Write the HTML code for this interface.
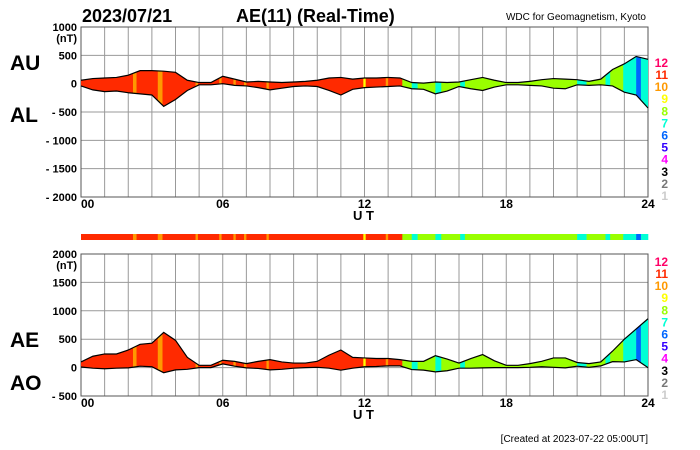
<!DOCTYPE html>
<html><head><meta charset="utf-8"><style>
body{margin:0;background:#fff;width:700px;height:450px;overflow:hidden}
svg{display:block;font-family:"Liberation Sans",sans-serif}
</style></head><body>
<svg id="c" width="700" height="450"></svg>
<script>
const hours=[0,0.5,1,1.5,2,2.5,3,3.5,4,4.5,5,5.5,6,6.5,7,7.5,8,8.5,9,9.5,10,10.5,11,11.5,12,12.5,13,13.5,14,14.5,15,15.5,16,16.5,17,17.5,18,18.5,19,19.5,20,20.5,21,21.5,22,22.5,23,23.5,24];
const auValues=[60,90,100,110,150,230,230,220,200,60,20,20,130,80,30,40,30,20,30,40,60,100,110,80,100,100,110,100,20,10,30,20,30,70,110,60,20,20,40,70,90,80,70,40,80,250,350,480,430];
const alValues=[-40,-110,-140,-130,-160,-180,-200,-400,-280,-120,-20,-20,0,-30,-40,-70,-110,-80,-50,-40,-50,-120,-200,-100,-70,-60,-50,-40,-90,-100,-180,-130,-50,-90,-120,-60,-20,-20,-30,-40,-80,-90,-20,-30,-20,-40,-150,-200,-430];
// station-count segments [start hour, end hour, count]
const segStart=[0,2.2,2.35,3.25,3.45,4.85,4.95,5.85,5.95,6.45,6.55,6.9,7.0,7.85,7.95,11.95,12.05,12.9,13.0,13.6,14.0,14.25,15.0,15.25,16.05,16.25,21.0,21.4,22.2,22.4,22.95,23.5,23.7];
const segEnd=[2.2,2.35,3.25,3.45,4.85,4.95,5.85,5.95,6.45,6.55,6.9,7.0,7.85,7.95,11.95,12.05,12.9,13.0,13.6,14.0,14.25,15.0,15.25,16.05,16.25,21.0,21.4,22.2,22.4,22.95,23.5,23.7,24];
const segCount=[11,10,11,10,11,10,11,10,11,10,11,10,11,10,11,9,11,10,11,8,7,8,7,8,7,8,7,8,7,8,7,6,7];
const legendLabels=["12","11","10","9","8","7","6","5","4","3","2","1"];
const countColor={12:"#ff0066",11:"#ff2a00",10:"#ff9900",9:"#ffff00",8:"#99ff00",7:"#00ffd5",6:"#0066ff",5:"#3300ff",4:"#ff00ff",3:"#000000",2:"#777777",1:"#cccccc"};
const topTicks=[1000,500,0,-500,-1000,-1500,-2000];
const botTicks=[2000,1500,1000,500,0,-500];
const xTicks=["00","06","12","18","24"];

const S="http://www.w3.org/2000/svg",svg=document.getElementById('c');
const X0=81,X1=648;
const xs=h=>X0+(X1-X0)*h/24;
function el(t,a,p){const e=document.createElementNS(S,t);for(const k in a)e.setAttribute(k,a[k]);(p||svg).appendChild(e);return e;}
function txt(s,x,y,size,anchor,weight,fill,p){const e=el('text',{x:x,y:y,'font-size':size,'text-anchor':anchor||'start','font-weight':weight||'bold',fill:fill||'#000'},p);e.textContent=s;return e;}

function panel(name,yTop,yBot,vMax,vMin,ticks,upper,lower,lab1,lab2,labY1,labY2){
  const g=el('g',{});
  
  
  const ys=v=>yTop+(vMax-v)/(vMax-vMin)*(yBot-yTop);
  for(let h=0;h<=24;h++){const l=el('line',{x1:xs(h),x2:xs(h),y1:yTop,y2:yBot,stroke:'#999','stroke-width':1},g);}
  ticks.forEach(v=>{const l=el('line',{x1:X0,x2:X1,y1:ys(v),y2:ys(v),stroke:'#999','stroke-width':1},g);
    const lab=v<0?('- '+(-v)):String(v);const t=txt(lab,77,ys(v)+4,11,'end','bold','#000',g);});
  const u=txt('(nT)',77,ys(ticks[0])+15,11,'end','bold','#000',g);
  el('rect',{x:X0,y:yTop,width:X1-X0,height:yBot-yTop,fill:'none',stroke:'#555'},g);
  let pts=hours.map((h,i)=>xs(h)+','+ys(upper[i]));
  let ptsL=hours.map((h,i)=>xs(h)+','+ys(lower[i])).reverse();
  const poly=pts.concat(ptsL).join(' ');
  segStart.forEach((s,i)=>{
    const id=name+'clip'+i;const cp=el('clipPath',{id:id},g);
    el('rect',{x:xs(s),y:yTop-50,width:xs(segEnd[i])-xs(s)+0.3,height:yBot-yTop+100},cp);
    const p=el('polygon',{points:poly,fill:countColor[segCount[i]],'clip-path':'url(#'+id+')'},g);
    
  });
  const a=el('polyline',{points:pts.join(' '),fill:'none',stroke:'#000','stroke-width':1.2},g);
  const b=el('polyline',{points:hours.map((h,i)=>xs(h)+','+ys(lower[i])).join(' '),fill:'none',stroke:'#000','stroke-width':1.2},g);
  xTicks.forEach((t,i)=>{const e=txt(t,xs(i*6),yBot+11,12,i==0?'start':'middle','bold','#000',g);});
  const ut=txt('U T',353,yBot+23,13,'start','bold','#000',g);
  const l1=txt(lab1,10,labY1,21,'start','bold','#000',g);
  const l2=txt(lab2,10,labY2,21,'start','bold','#000',g);
  legendLabels.forEach((s,i)=>{const e=txt(s,668,yBot+3-(11-i)*12.1,12,'end','bold',countColor[+s],g);});
}
const ae=auValues.map((v,i)=>v-alValues[i]);
const ao=auValues.map((v,i)=>(v+alValues[i])/2);
panel('au-al-panel',27,197,1000,-2000,topTicks,auValues,alValues,'AU','AL',70,122);
panel('ae-ao-panel',254,396,2000,-500,botTicks,ae,ao,'AE','AO',347,390);
segStart.forEach((s,i)=>{const r=el('rect',{x:xs(s),y:234,width:xs(segEnd[i])-xs(s)+0.3,height:6,fill:countColor[segCount[i]]});});
let t;
t=txt('2023/07/21',82,22,18);
t=txt('AE(11) (Real-Time)',236,22,18);
t=txt('WDC for Geomagnetism, Kyoto',646,20,10,'end','normal');
t=txt('[Created at 2023-07-22 05:00UT]',648,442,10,'end','normal');
</script>
</body></html>
